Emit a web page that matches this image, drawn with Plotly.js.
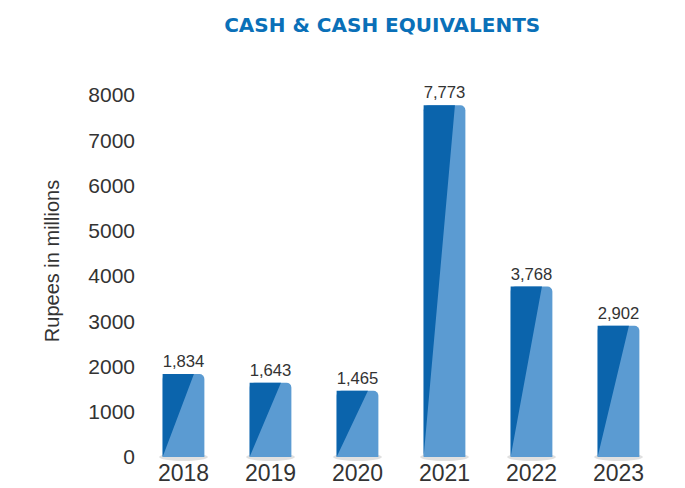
<!DOCTYPE html>
<html><head><meta charset="utf-8">
<script src="https://cdn.plot.ly/plotly-3.0.1.min.js"></script>
<style>html,body{margin:0;padding:0;background:#fff}#c{width:685px;height:488px}</style>
</head><body><div id="c"></div>
<script>
const years = ['2018','2019','2020','2021','2022','2023'];
const values = [1834, 1643, 1465, 7773, 3768, 2902];
const yTicks = [0,1000,2000,3000,4000,5000,6000,7000,8000];

const idx = years.map((_, i) => i);
const W = 0.48;
// dark diagonal triangle overlay per bar, derived from data
const tx = [], ty = [];
idx.forEach(i => {
  const x0 = i - W/2;
  tx.push(x0, x0, x0 + W*0.75, x0, null);
  ty.push(0, values[i], values[i], 0, null);
});

const data = [
  {type:'bar', x: idx, y: values, width: W,
   marker:{color:'#5b9bd2', cornerradius:5, line:{width:0}},
   text: values.map(v => v.toLocaleString('en-US')), textposition:'outside',
   textfont:{family:'Liberation Sans, Arial, sans-serif', size:17, color:'#333'},
   cliponaxis:false, hoverinfo:'skip'},
  {type:'scatter', x: tx, y: ty, mode:'lines', fill:'toself', fillcolor:'#0b64ac',
   line:{width:0, color:'#0b64ac'}, hoverinfo:'skip'}
];

const shapes = idx.map(i => ({type:'circle', xref:'x', yref:'paper', layer:'below',
  x0: i - W/2 - 0.04, x1: i + W/2 + 0.04, y0: -0.011, y1: 0.011,
  fillcolor:'#e0e0e0', line:{width:0}}));

const layout = {
  width:685, height:488, showlegend:false,
  paper_bgcolor:'#fff', plot_bgcolor:'#fff',
  margin:{l:140, r:23, t:95, b:31},
  shapes: shapes,
  title:{text:'<b>CASH &amp; CASH EQUIVALENTS</b>', xref:'container', x:0.558, xanchor:'center',
         yref:'container', y:0.949, yanchor:'middle',
         font:{family:'DejaVu Sans, sans-serif', size:20, color:'#0a70b8'}},
  xaxis:{range:[-0.5,5.5], tickvals: idx, ticktext: years, showgrid:false, zeroline:false,
         showline:false, ticks:'', ticklabelstandoff:0,
         tickfont:{family:'Liberation Sans, Arial, sans-serif', size:23, color:'#333'}},
  yaxis:{range:[0,8000], tickvals: yTicks, showgrid:false, zeroline:false, showline:false, ticks:'',
         ticklabelstandoff:4,
         tickfont:{family:'Liberation Sans, Arial, sans-serif', size:21, color:'#333'}},
  annotations:[{text:'Rupees in millions', xref:'paper', yref:'paper', x:-0.1686, y:0.541,
    xanchor:'center', yanchor:'middle', textangle:-90, showarrow:false,
    font:{family:'Liberation Sans, Arial, sans-serif', size:20, color:'#333'}}]
};
Plotly.newPlot('c', data, layout, {displayModeBar:false, staticPlot:true});
</script></body></html>
